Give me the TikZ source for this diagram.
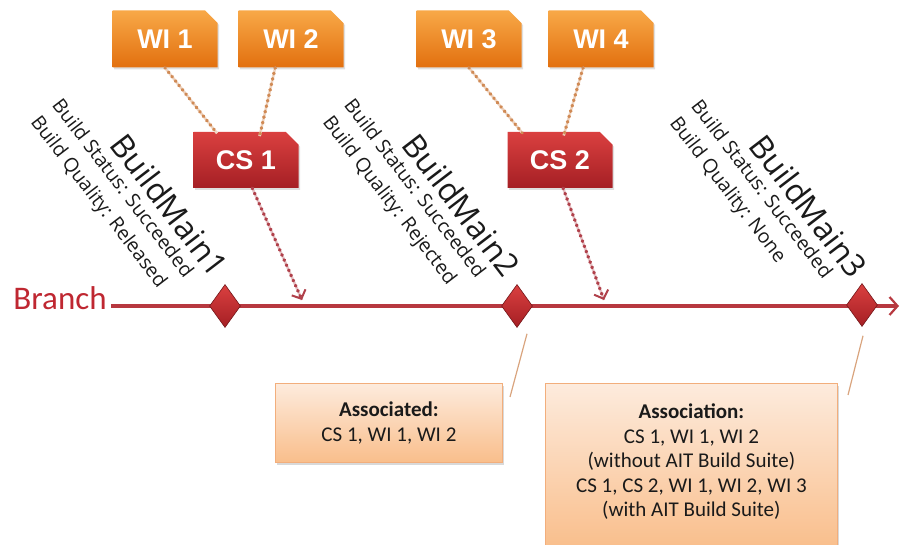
\documentclass[tikz,border=0pt]{standalone}
\usepackage{fontspec}
\setmainfont{Carlito}
\newfontfamily\tagfont{Liberation Sans}
\newfontfamily\buildfont{Open Sans}
\usepackage{tikz}
\usetikzlibrary{calc,shapes.geometric,shapes.misc,shadows,arrows.meta}
\definecolor{wilight}{HTML}{F8A847}
\definecolor{widark}{HTML}{E2700F}
\definecolor{cslight}{HTML}{DA4040}
\definecolor{csdark}{HTML}{A51F24}
\definecolor{branchred}{HTML}{BF2731}
\definecolor{linered}{HTML}{B7383F}
\definecolor{dotorange}{HTML}{D08A55}
\definecolor{dotred}{HTML}{B0404A}
\definecolor{notetop}{HTML}{FDEBDD}
\definecolor{notebot}{HTML}{F9BE8B}
\definecolor{noteedge}{HTML}{F2AE7C}
\definecolor{pointer}{HTML}{D9A47E}
\definecolor{ink}{HTML}{1A1A1A}
\tikzset{
  tagbox/.style={chamfered rectangle, chamfered rectangle corners=north east,
    chamfered rectangle xsep=10pt, inner sep=0pt, text=white,
    font=\tagfont\bfseries\fontsize{27}{27}\selectfont,
    drop shadow={shadow xshift=1.5pt, shadow yshift=-2pt, opacity=0.25}},
  wibox/.style={tagbox, minimum width=105pt, minimum height=57pt,
    top color=wilight, bottom color=widark},
  csbox/.style={tagbox, minimum width=105pt, minimum height=56pt,
    top color=cslight, bottom color=csdark},
  link/.style={preaction={draw=dotorange!35, line width=2.6pt},
    draw=dotorange, line width=3.4pt, line cap=round,
    dash pattern=on 0.6pt off 5pt},
  push/.style={preaction={draw=dotred!30, line width=2.6pt, -},
    draw=dotred, line width=3.4pt, line cap=round,
    dash pattern=on 0.6pt off 5pt, -{Straight Barb[length=7pt,width=15pt,line width=2pt]}},
  branchline/.style={draw=linered, line width=3.2pt,
    -{Straight Barb[length=8pt,width=18pt,line width=2.2pt]}},
  build/.style={diamond, inner sep=0pt, minimum width=31pt, minimum height=43pt,
    top color=cslight, bottom color=csdark, draw=csdark!70!black, line width=0.6pt},
  bname/.style={rotate=-52.5, anchor=west, inner sep=0pt, text=ink,
    font=\buildfont\fontsize{32}{32}\selectfont},
  binfo/.style={rotate=-52.5, anchor=west, inner sep=0pt, text=ink,
    font=\buildfont\fontsize{19.5}{19.5}\selectfont},
  note/.style={draw=noteedge, line width=0.8pt, top color=notetop, bottom color=notebot,
    anchor=north west, align=center, text=ink, inner sep=0pt,
    font=\fontsize{21}{24.5}\selectfont,
    drop shadow={shadow xshift=2pt, shadow yshift=-2.5pt, opacity=0.3}},
  pointerline/.style={draw=pointer, line width=1.2pt}
}

\begin{document}
\begin{tikzpicture}[x=1pt, y=-1pt]
  \useasboundingbox (0,0) rectangle (900,545);

  % work items and changesets
  \node[wibox] (wi1) at (165,39) {WI 1};
  \node[wibox] (wi2) at (291,39) {WI 2};
  \node[wibox] (wi3) at (469,39) {WI 3};
  \node[wibox] (wi4) at (601,39) {WI 4};
  \node[csbox] (cs1) at (246,160) {CS 1};
  \node[csbox] (cs2) at (560,160) {CS 2};

  \draw[link] (wi1.south) -- ($(cs1.north west)!0.24!(cs1.north east)$);
  \draw[link] ($(wi2.south west)!0.35!(wi2.south east)$) -- ($(cs1.north west)!0.67!(cs1.north east)$);
  \draw[link] (wi3.south) -- ($(cs2.north west)!0.15!(cs2.north east)$);
  \draw[link] ($(wi4.south west)!0.33!(wi4.south east)$) -- ($(cs2.north west)!0.57!(cs2.north east)$);

  % the branch with its builds
  \node[text=branchred, inner sep=0pt, font=\fontsize{33}{33}\selectfont] (branch) at (60,298) {Branch};
  \coordinate (branchend) at (899,306);
  \coordinate (b1) at (225,306);
  \coordinate (b2) at (517,306);
  \coordinate (b3) at (862,305);
  \draw[branchline] (branch.east |- b1) ++(4,0) -- (branchend);
  \node[build] (d1) at (b1) {};
  \node[build] (d2) at (b2) {};
  \node[build] (d3) at (b3) {};

  \coordinate (t1) at (302,300);
  \coordinate (t2) at (604,300);
  \draw[push] ($(cs1.south west)!0.56!(cs1.south east)$) -- (t1);
  \draw[push] ($(cs2.south west)!0.53!(cs2.south east)$) -- (t2);

  \node[bname] (n1) at ($(b1)+(-107,-168)$) {BuildMain1};
  \node[binfo] (s1) at ($(b1)+(-168,-205)$) {Build Status: Succeeded};
  \node[binfo] (q1) at ($(b1)+(-191,-187)$) {Build Quality: Released};

  \node[bname] (n2) at ($(b2)+(-107,-168)$) {BuildMain2};
  \node[binfo] (s2) at ($(b2)+(-168,-205)$) {Build Status: Succeeded};
  \node[binfo] (q2) at ($(b2)+(-191,-187)$) {Build Quality: Rejected};

  \node[bname] (n3) at ($(b3)+(-105,-166)$) {BuildMain3};
  \node[binfo] (s3) at ($(b3)+(-166,-203)$) {Build Status: Succeeded};
  \node[binfo] (q3) at ($(b3)+(-189,-185)$) {Build Quality: None};

  % associations
  \node[note, minimum width=227pt, minimum height=79pt] (a1) at (275,383)
    {\textbf{Associated:}\\CS 1, WI 1, WI 2};
  \node[note, minimum width=292pt, minimum height=166pt] (a2) at (545,383)
    {\textbf{Association:}\\CS 1, WI 1, WI 2\\(without AIT Build Suite)\\CS 1, CS 2, WI 1, WI 2, WI 3\\(with AIT Build Suite)\rule[-12pt]{0pt}{0pt}};

  \coordinate (p1) at (510,397);
  \coordinate (p2) at (848,395);
  \draw[pointerline] ($(d2.south)+(10,6)$) -- (p1);
  \draw[pointerline] ($(d3.south)+(1,9)$) -- (p2);
\end{tikzpicture}
\end{document}
